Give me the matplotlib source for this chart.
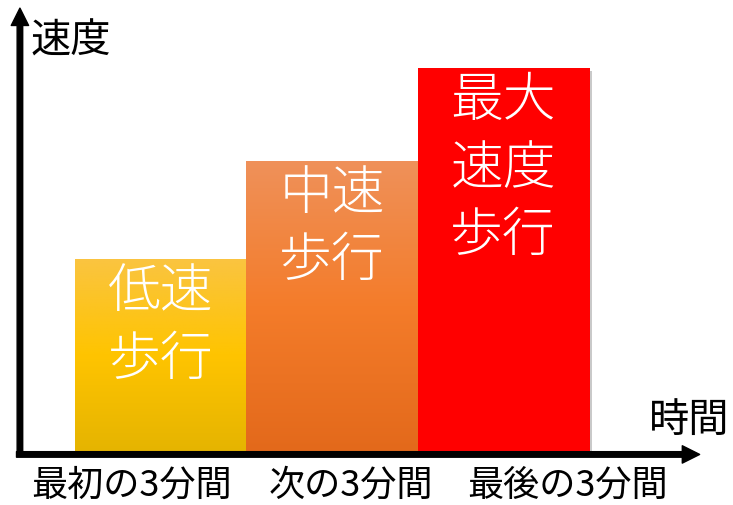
import matplotlib
matplotlib.use('Agg')
import matplotlib.pyplot as plt
import numpy as np
from matplotlib.colors import LinearSegmentedColormap
from matplotlib.patches import FancyArrowPatch, ArrowStyle
import matplotlib.patheffects as pe

plt.rcParams['font.family'] = ['Noto Sans CJK JP', 'DejaVu Sans']

# 区間ごとの歩行速度（相対値）
periods = ['最初の3分間', '次の3分間', '最後の3分間']
speeds = [2.0, 3.02, 3.98]
bar_labels = ['低速\n歩行', '中速\n歩行', '最大\n速度\n歩行']
gradients = [
    ['#FAC441', '#FFC400', '#E5B400'],
    ['#EF915A', '#F47C2A', '#E3691B'],
    ['#FF0000', '#FF0000', '#FF0000'],
]

fig = plt.figure(figsize=(7.33, 5.05), dpi=100)
ax = fig.add_axes([0, 0, 1, 1])
ax.axis('off')

x = np.arange(len(speeds))
bars = ax.bar(x, speeds, width=1.0, color='none', edgecolor='none', zorder=2)

grad = np.linspace(0, 1, 256).reshape(-1, 1)
for bar, cols, lab in zip(bars, gradients, bar_labels):
    x0, w, h = bar.get_x(), bar.get_width(), bar.get_height()
    # 影
    ax.bar(x0 + w / 2, h, width=w, color='white', zorder=1,
           path_effects=[pe.SimplePatchShadow(offset=(2.5, -2.5), alpha=0.35, shadow_rgbFace='0.4'),
                         pe.Normal()])
    cmap = LinearSegmentedColormap.from_list('g', cols[::-1])
    im = ax.imshow(grad, extent=(x0, x0 + w, 0, h), origin='lower', cmap=cmap,
                   aspect='auto', zorder=2)
    im.set_clip_path(bar)
    ax.text(x0 + w / 2, h - 0.06, lab, color='white', fontsize=38, ha='center',
            va='top', linespacing=1.28, fontweight='light', zorder=4)
ax.set_xlim(-0.9415, 3.345)
ax.set_ylim(-0.549, 4.684)

# 座標軸の矢印
ox, oy = -0.825, -0.025
style = ArrowStyle.Simple(head_length=12.5, head_width=12.5, tail_width=4)
ax.add_patch(FancyArrowPatch((ox, oy - 0.02), (ox, 4.6), arrowstyle=style,
                             mutation_scale=1, color='black', shrinkA=0, shrinkB=0, zorder=5))
ax.add_patch(FancyArrowPatch((ox - 0.02, oy), (3.15, oy), arrowstyle=style,
                             mutation_scale=1, color='black', shrinkA=0, shrinkB=0, zorder=5))

ax.text(-0.526, 4.26, '速度', fontsize=29, ha='center', va='center')
ax.text(3.09, 0.33, '時間', fontsize=29, ha='center', va='center')

label_x = [-0.17, 1.11, 2.38]
for lx, p in zip(label_x, periods):
    ax.text(lx, -0.345, p, fontsize=26, ha='center', va='center')

fig.savefig('out.png', dpi=100)
